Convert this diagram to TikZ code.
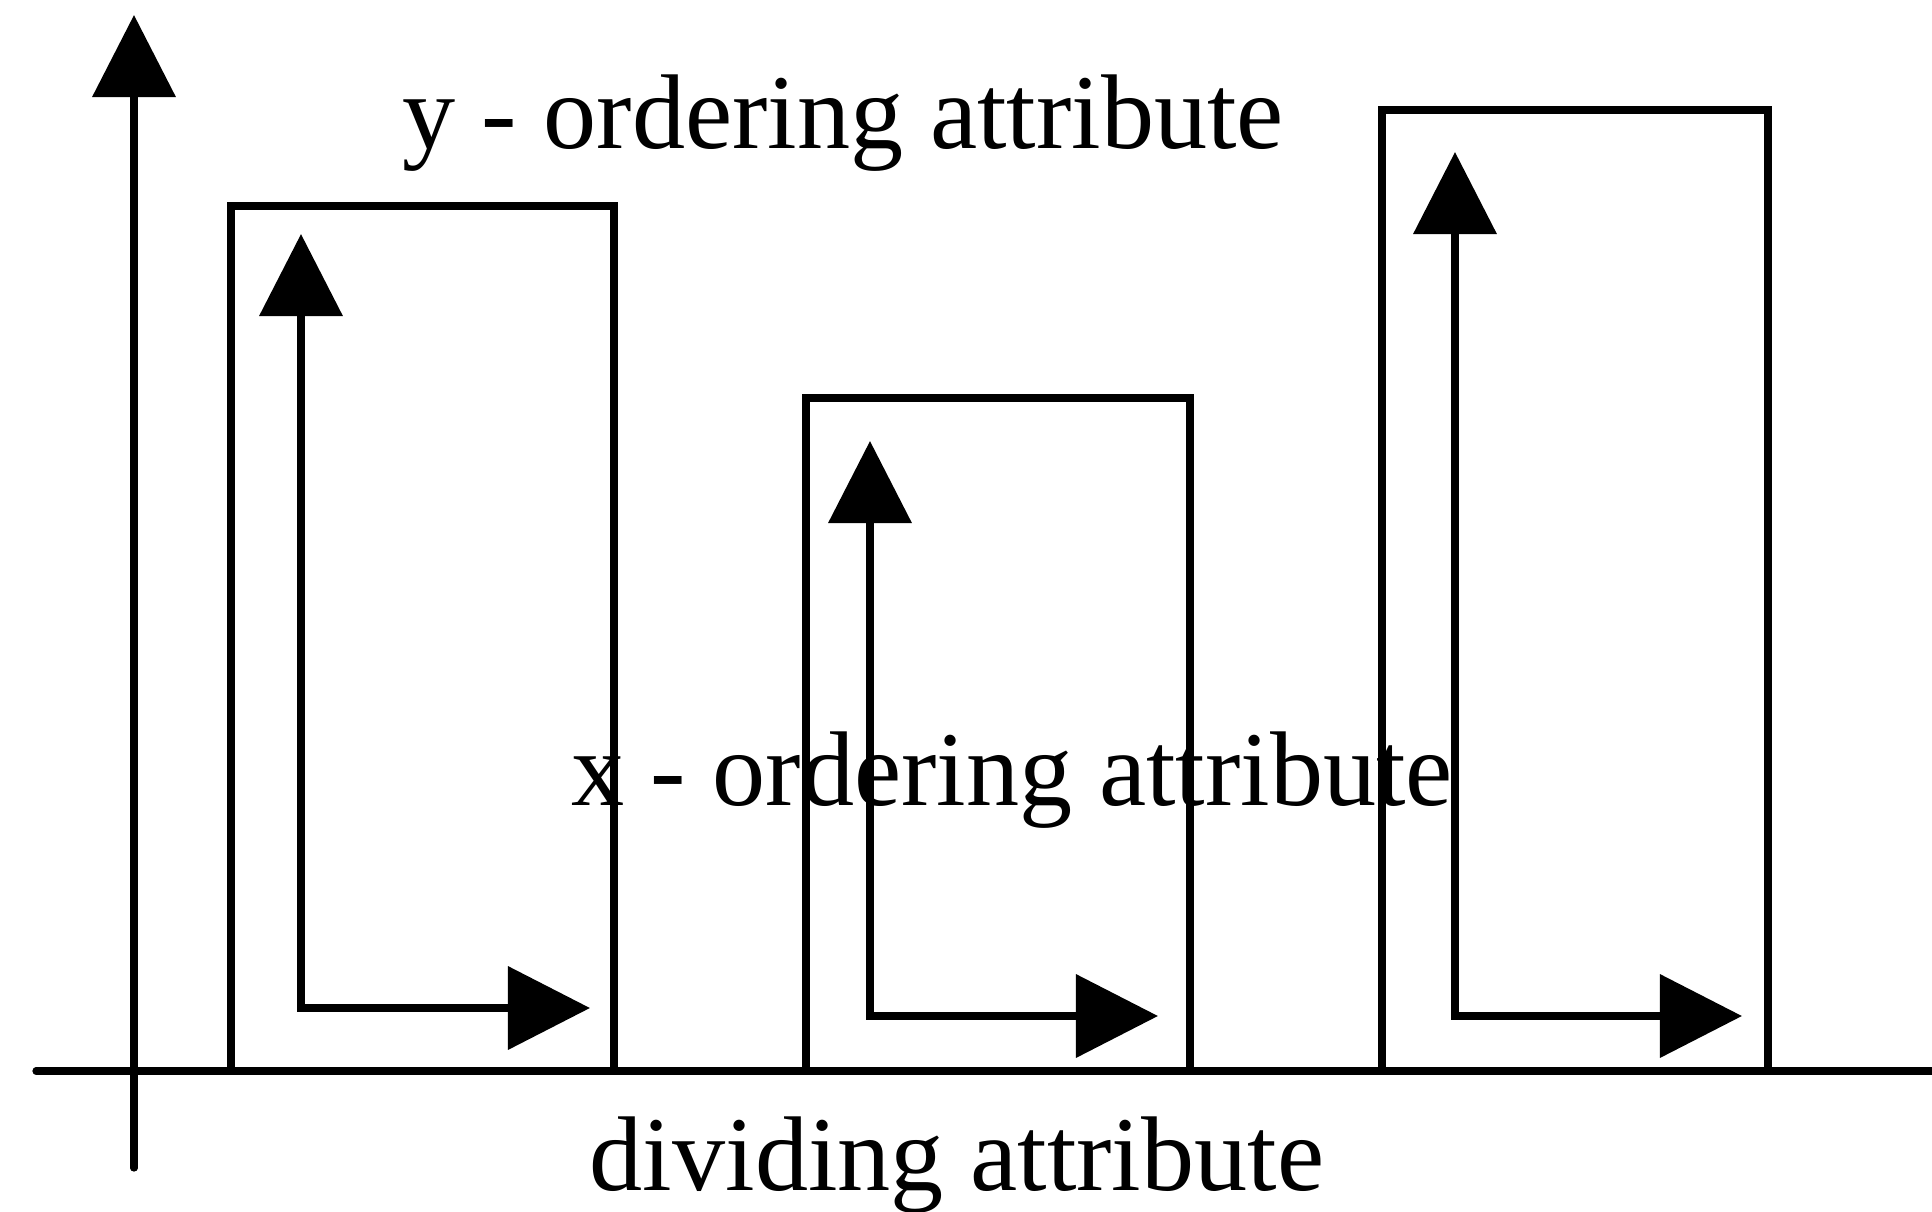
\documentclass[tikz,border=0pt]{standalone}
\usepackage{fontspec}
\setmainfont{Liberation Serif}
\usetikzlibrary{arrows.meta}
\tikzset{
  ln/.style={line width=0.072cm, line join=miter},
  tipped/.style={ln, -{Triangle[length=0.82cm, width=0.82cm]}},
  dbltip/.style={ln, {Triangle[length=0.82cm, width=0.82cm]}-{Triangle[length=0.82cm, width=0.82cm]}},
  lbl/.style={inner sep=0pt, anchor=base, font=\fontsize{30.2pt}{36pt}\selectfont}
}
\begin{document}
\begin{tikzpicture}[x=0.01cm, y=-0.01cm]
\useasboundingbox (0,0) rectangle (1932,1211);
% axes
\coordinate (ybot) at (134,1168);
\coordinate (ytop) at (134,15);
\coordinate (xl) at (36,1071);
\coordinate (xr) at (1932,1071);
\draw[ln, line cap=round] (xl) -- (xr);
\draw[tipped, line cap=round] (ybot) -- (ytop);
% boxes
\coordinate (b1a) at (231,206); \coordinate (b1b) at (614,1071);
\coordinate (b2a) at (806,398); \coordinate (b2b) at (1190,1071);
\coordinate (b3a) at (1382,110); \coordinate (b3b) at (1768,1071);
\draw[ln] (b1a) rectangle (b1b);
\draw[ln] (b2a) rectangle (b2b);
\draw[ln] (b3a) rectangle (b3b);
% inner arrows
\coordinate (a1t) at (301,234); \coordinate (a1r) at (590,1008);
\coordinate (a2t) at (870,441); \coordinate (a2r) at (1158,1016);
\coordinate (a3t) at (1455,152); \coordinate (a3r) at (1742,1016);
\draw[dbltip] (a1t) |- (a1r);
\draw[dbltip] (a2t) |- (a2r);
\draw[dbltip] (a3t) |- (a3r);
% labels
\node[lbl] (ylab) at (843,148) {y - ordering attribute};
\node[lbl] (xlab) at (1012,805) {x - ordering attribute};
\node[lbl] (dlab) at (957,1190) {dividing attribute};
\end{tikzpicture}
\end{document}
